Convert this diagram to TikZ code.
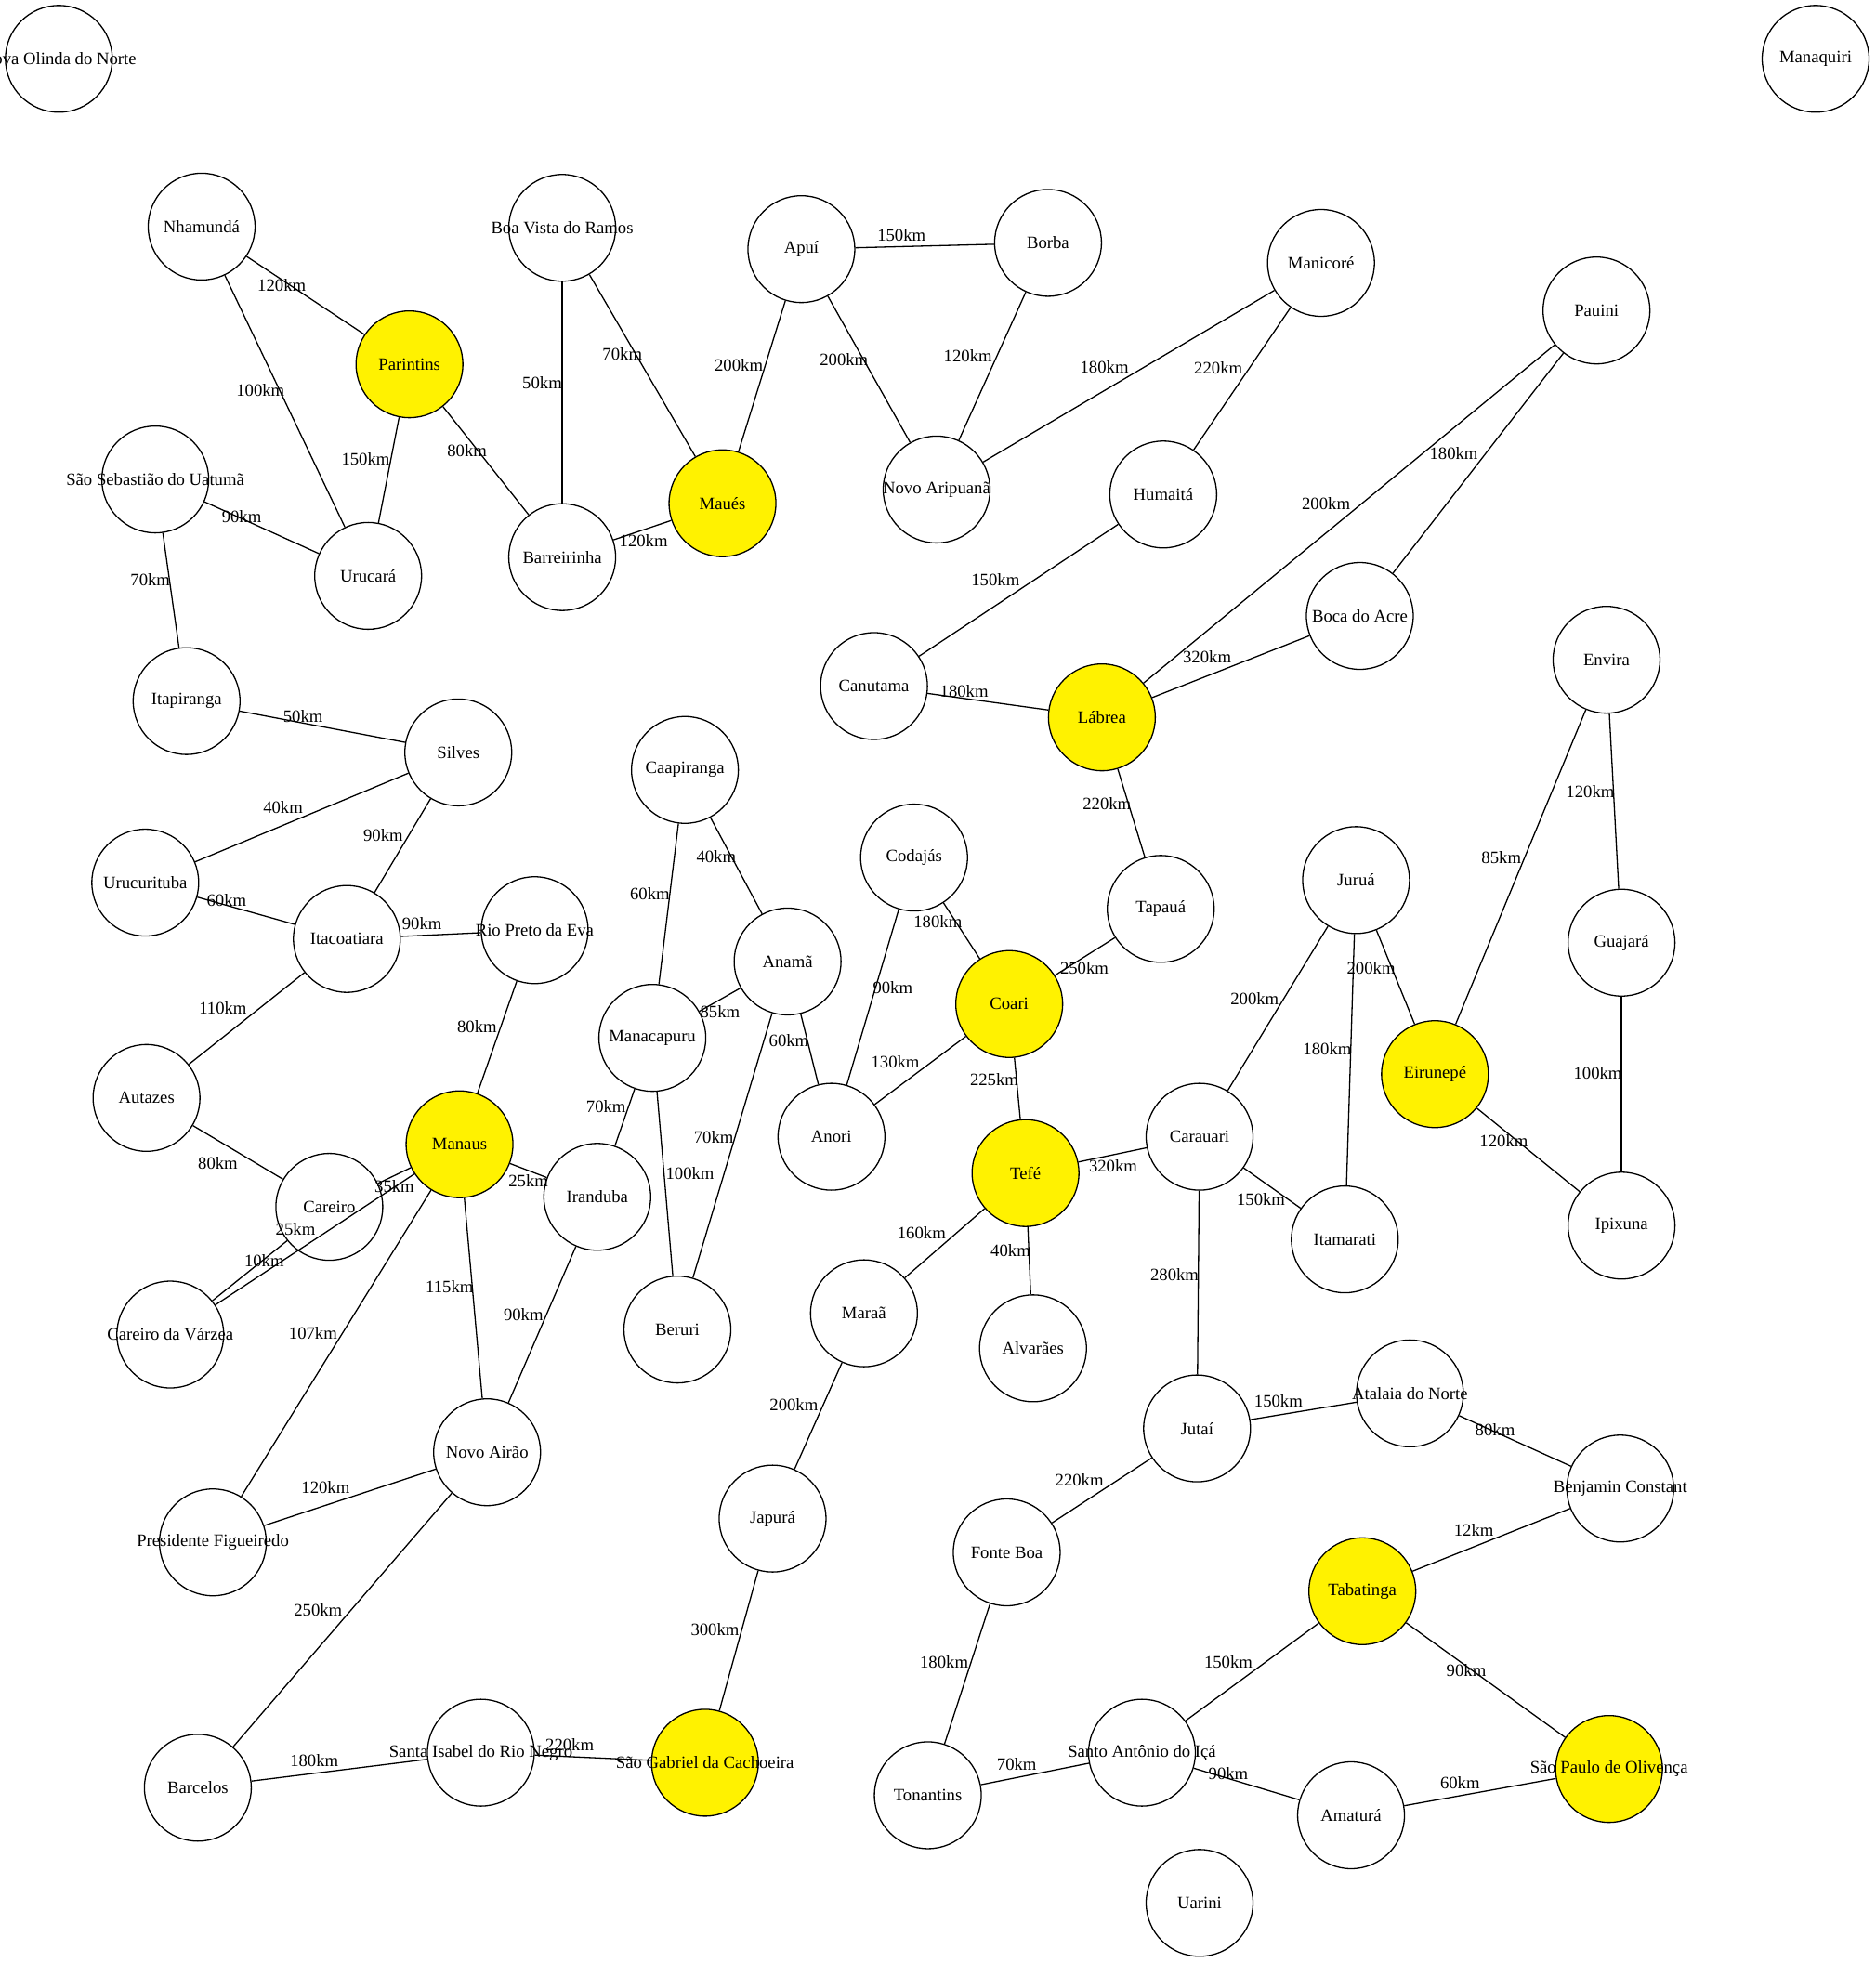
\documentclass[tikz,border=0pt]{standalone}
\usepackage{fontspec}
\setmainfont{Liberation Serif}
\begin{document}
\begin{tikzpicture}[x=1.3478pt,y=-1.3478pt,
  city/.style={circle, draw, line width=1.3pt, minimum size=115pt, inner sep=0pt},
  hub/.style={city, fill=yellow},
  cityname/.style={font=\fontsize{18.7}{20}\selectfont, inner sep=0pt},
  road/.style={line width=1.3pt},
  km/.style={font=\fontsize{18.7}{20}\selectfont, inner sep=0pt}]
\useasboundingbox (0,0) rectangle (1498,1568);
\newcommand\town[4][city]{\node[#1, label={[cityname]center:#4}] (#2) at (#3) {};}
\newcommand\road[4]{\draw[road] (#1) -- (#2); \node[km] (k-#1-#2) at (#3) {#4};}

% municipalities
\town{nol}{47,47}{Nova Olinda do Norte}
\town{mqi}{1450,47}{Manaquiri}
\town{nha}{161,181}{Nhamundá}
\town[hub]{par}{327,291}{Parintins}
\town{bvr}{449,182}{Boa Vista do Ramos}
\town[hub]{mau}{577,402}{Maués}
\town{apu}{640,199}{Apuí}
\town{bor}{837,194}{Borba}
\town{mni}{1055,210}{Manicoré}
\town{pau}{1275,248}{Pauini}
\town{nar}{748,391}{Novo Aripuanã}
\town{hum}{929,395}{Humaitá}
\town{ssu}{124,383}{São Sebastião do Uatumã}
\town{uru}{294,460}{Urucará}
\town{bar}{449,445}{Barreirinha}
\town{bac}{1086,492}{Boca do Acre}
\town{can}{698,548}{Canutama}
\town[hub]{lab}{880,573}{Lábrea}
\town{env}{1283,527}{Envira}
\town{itp}{149,560}{Itapiranga}
\town{sil}{366,601}{Silves}
\town{caa}{547,615}{Caapiranga}
\town{cod}{730,685}{Codajás}
\town{tap}{927,726}{Tapauá}
\town{jur}{1083,703}{Juruá}
\town{gua}{1295,753}{Guajará}
\town{urc}{116,705}{Urucurituba}
\town{ita}{277,750}{Itacoatiara}
\town{rpe}{427,743}{Rio Preto da Eva}
\town{ana}{629,768}{Anamã}
\town[hub]{coa}{806,802}{Coari}
\town{mcp}{521,829}{Manacapuru}
\town[hub]{eir}{1146,858}{Eirunepé}
\town{aut}{117,877}{Autazes}
\town[hub]{mao}{367,914}{Manaus}
\town{ano}{664,908}{Anori}
\town[hub]{tef}{819,937}{Tefé}
\town{crr}{958,908}{Carauari}
\town{ira}{477,956}{Iranduba}
\town{car}{263,964}{Careiro}
\town{itm}{1074,990}{Itamarati}
\town{ipx}{1295,979}{Ipixuna}
\town{cdv}{136,1066}{Careiro da Várzea}
\town{ber}{541,1062}{Beruri}
\town{mar}{690,1049}{Maraã}
\town{alv}{825,1077}{Alvarães}
\town{nai}{389,1160}{Novo Airão}
\town{jut}{956,1141}{Jutaí}
\town{ata}{1126,1113}{Atalaia do Norte}
\town{bco}{1294,1189}{Benjamin Constant}
\town{pfi}{170,1232}{Presidente Figueiredo}
\town{jap}{617,1213}{Japurá}
\town{fbo}{804,1240}{Fonte Boa}
\town[hub]{tab}{1088,1271}{Tabatinga}
\town{brc}{158,1428}{Barcelos}
\town{sir}{384,1400}{Santa Isabel do Rio Negro}
\town[hub]{sgc}{563,1408}{São Gabriel da Cachoeira}
\town{ton}{741,1434}{Tonantins}
\town{sai}{912,1400}{Santo Antônio do Içá}
\town{amt}{1079,1450}{Amaturá}
\town[hub]{spo}{1285,1413}{São Paulo de Olivença}
\town{uar}{958,1520}{Uarini}

% roads with distances
\road{nha}{par}{225,228}{120km}
\road{nha}{uru}{208,312}{100km}
\road{par}{uru}{292,367}{150km}
\road{par}{bar}{373,360}{80km}
\road{bvr}{bar}{433,306}{50km}
\road{bvr}{mau}{497,283}{70km}
\road{mau}{bar}{514,432}{120km}
\road{mau}{apu}{590,292}{200km}
\road{apu}{bor}{720,188}{150km}
\road{apu}{nar}{674,287}{200km}
\road{bor}{nar}{773,284}{120km}
\road{mni}{nar}{882,293}{180km}
\road{mni}{hum}{973,294}{220km}
\road{hum}{can}{795,463}{150km}
\road{pau}{lab}{1059,402}{200km}
\road{pau}{bac}{1161,362}{180km}
\road{bac}{lab}{964,525}{320km}
\road{can}{lab}{770,552}{180km}
\road{ssu}{uru}{193,413}{90km}
\road{ssu}{itp}{120,463}{70km}
\road{itp}{sil}{242,572}{50km}
\road{sil}{urc}{226,645}{40km}
\road{sil}{ita}{306,667}{90km}
\road{urc}{ita}{181,719}{60km}
\road{ita}{rpe}{337,738}{90km}
\road{ita}{aut}{178,805}{110km}
\road{rpe}{mao}{381,820}{80km}
\road{aut}{car}{174,929}{80km}
\road{mao}{car}{315,948}{35km}
\road{cdv}{mao}{236,982}{25km}
\road{cdv}{car}{211,1007}{10km}
\road{mao}{ira}{422,943}{25km}
\road{mao}{nai}{359,1028}{115km}
\road{mao}{pfi}{250,1065}{107km}
\road{ira}{nai}{418,1050}{90km}
\road{ira}{mcp}{484,884}{70km}
\road{caa}{mcp}{519,714}{60km}
\road{caa}{ana}{572,684}{40km}
\road{ana}{mcp}{575,808}{85km}
\road{ana}{ano}{630,831}{60km}
\road{ana}{ber}{570,908}{70km}
\road{mcp}{ber}{551,937}{100km}
\road{cod}{ano}{713,789}{90km}
\road{cod}{coa}{749,736}{180km}
\road{coa}{ano}{715,848}{130km}
\road{tap}{coa}{866,773}{250km}
\road{lab}{tap}{884,642}{220km}
\road{coa}{tef}{794,862}{225km}
\road{tef}{crr}{889,931}{320km}
\road{tef}{mar}{736,985}{160km}
\road{tef}{alv}{807,999}{40km}
\road{jur}{crr}{1002,798}{200km}
\road{jur}{itm}{1060,838}{180km}
\road{jur}{eir}{1095,773}{200km}
\road{env}{eir}{1199,685}{85km}
\road{env}{gua}{1270,632}{120km}
\road{gua}{ipx}{1276,857}{100km}
\road{eir}{ipx}{1201,911}{120km}
\road{crr}{itm}{1007,958}{150km}
\road{crr}{jut}{938,1018}{280km}
\road{mar}{jap}{634,1122}{200km}
\road{jap}{sgc}{571,1302}{300km}
\road{nai}{pfi}{260,1188}{120km}
\road{nai}{brc}{254,1286}{250km}
\road{brc}{sir}{251,1406}{180km}
\road{sir}{sgc}{455,1394}{220km}
\road{jut}{ata}{1021,1119}{150km}
\road{jut}{fbo}{862,1182}{220km}
\road{ata}{bco}{1194,1142}{80km}
\road{bco}{tab}{1177,1222}{12km}
\road{tab}{sai}{981,1328}{150km}
\road{tab}{spo}{1171,1334}{90km}
\road{fbo}{ton}{754,1328}{180km}
\road{ton}{sai}{812,1409}{70km}
\road{sai}{amt}{981,1417}{90km}
\road{amt}{spo}{1166,1424}{60km}
\end{tikzpicture}
\end{document}
